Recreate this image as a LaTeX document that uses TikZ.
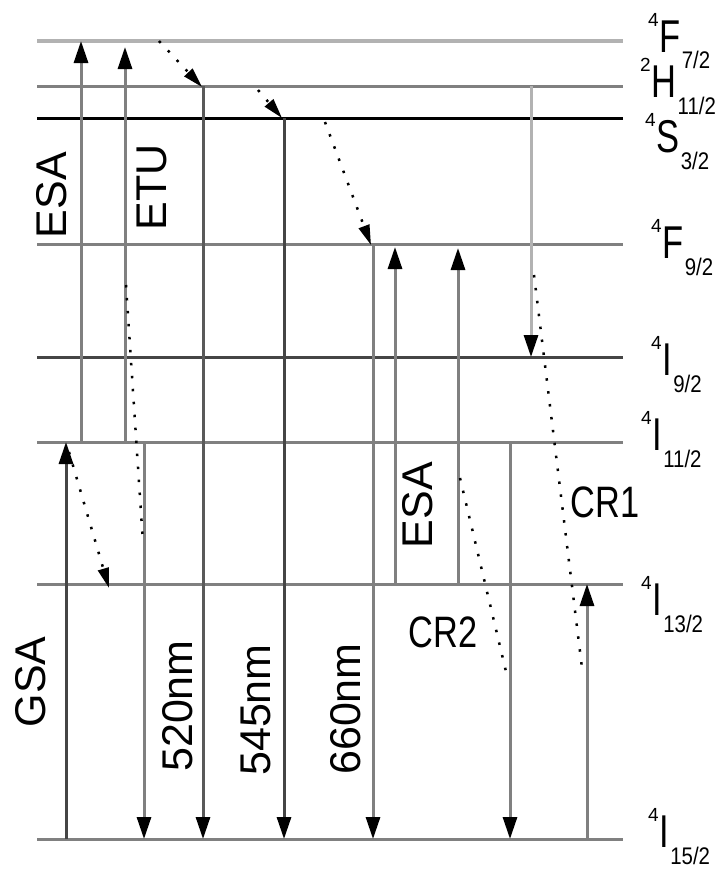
\documentclass[tikz,border=0pt]{standalone}
\usepackage{fontspec}
\setmainfont{Liberation Sans}
\usepackage{graphicx}
\usetikzlibrary{arrows.meta}

\definecolor{lgrey}{gray}{0.70}
\definecolor{mgrey}{gray}{0.50}
\definecolor{dgrey}{gray}{0.27}

\tikzset{
  level/.style={line width=3pt},
  trans/.style={line width=3pt, mgrey, -{Triangle[length=22pt,width=14pt,color=black]}},
  relax/.style={line width=2.5pt, dash pattern=on 2.5pt off 10.5pt},
  relaxtip/.style={relax, -{Triangle[length=20pt,width=11pt]}},
  vlabel/.style={rotate=90, inner sep=0pt, font=\fontsize{43}{43}\selectfont},
  hlabel/.style={inner sep=0pt, font=\fontsize{44}{44}\selectfont},
  term/.style={anchor=base west, inner sep=0pt},
}

% spectroscopic term: superscript, letter, subscript
\newcommand{\termsym}[3]{%
  \raisebox{26pt}{\fontsize{19}{19}\selectfont #1}\hspace{1pt}%
  \scalebox{0.75}[1]{\fontsize{46}{46}\selectfont #2}\hspace{1pt}%
  \raisebox{-17pt}{\scalebox{0.85}[1]{\fontsize{24}{24}\selectfont #3}}}

\begin{document}
\begin{tikzpicture}[x=1pt,y=-1pt]
  \useasboundingbox (0,0) rectangle (726,870);
  % Levels
  \foreach \lv/\y/\col/\w in {F72/41/lgrey/4.5, H112/86/mgrey/3, S32/118/black/3,
      F92/244/mgrey/3, I92/357/dgrey/3, I112/442/mgrey/3, I132/584/mgrey/3, I152/839/mgrey/3}
  {
    \coordinate (\lv) at (37,\y);
    \coordinate (\lv-r) at (623,\y);
    \draw[level,\col,line width=\w pt] (\lv) -- (\lv-r);
  }
  % Absorption and upconversion (up)
  \draw[trans,dgrey] (66,0 |- I152) -- (66,0 |- I112);
  \draw[trans] (81,0 |- I112) -- (81,0 |- F72);
  \draw[trans,shorten >=6pt] (125,0 |- I112) -- (125,0 |- F72);
  \draw[trans,shorten >=3pt] (395,0 |- I132) -- (395,0 |- F92);
  \draw[trans,shorten >=4pt] (458,0 |- I132) -- (458,0 |- F92);
  \draw[trans] (587,0 |- I152) -- (587,0 |- I132);
  % Emission and decay (down)
  \draw[trans] (144,0 |- I112) -- (144,0 |- I152);
  \draw[trans,black!65] (203,0 |- H112) -- (203,0 |- I152);
  \draw[trans,dgrey] (284,0 |- S32) -- (284,0 |- I152);
  \draw[trans] (373,0 |- F92) -- (373,0 |- I152);
  \draw[trans] (510,0 |- I112) -- (510,0 |- I152);
  \draw[trans,lgrey] (531,0 |- H112) -- (531,0 |- I92);
  % Nonradiative relaxation and cross relaxation
  \foreach \n/\xa/\ya/\xb/\yb in {r1/159/41/202/87, r2/258/90/282/118,
      r3/325/122/371/245, r4/126/285/143/543, r5/69/452/109/588,
      r6/460/478/508/680, r7/534/275/582/668}
  {
    \coordinate (\n-a) at (\xa,\ya);
    \coordinate (\n-b) at (\xb,\yb);
  }
  \foreach \n in {r1,r2,r3,r5}
    \draw[relaxtip] (\n-a) -- (\n-b);
  \foreach \n in {r4,r6,r7}
    \draw[relax] (\n-a) -- (\n-b);
  % Labels
  \node[vlabel] (esa1) at (52,195) {ESA};
  \node[vlabel] (etu) at (152,187) {ETU};
  \node[vlabel] (gsa) at (31,682) {GSA};
  \node[vlabel] (nm520) at (178,706) {520nm};
  \node[vlabel] (nm545) at (256,710) {545nm};
  \node[vlabel] (nm660) at (346,709) {660nm};
  \node[vlabel] (esa2) at (418,505) {ESA};
  \node[hlabel] (cr1) at (605,502) {\scalebox{0.78}[1]{CR1}};
  \node[hlabel] (cr2) at (443,632) {\scalebox{0.78}[1]{CR2}};
  % Term symbols
  \node[term] (tF72) at (648,52) {\termsym{4}{F}{7/2}};
  \node[term] (tH112) at (640,97) {\termsym{2}{H}{11/2}};
  \node[term] (tS32) at (645,152) {\termsym{4}{S}{3/2}};
  \node[term] (tF92) at (651,258) {\termsym{4}{F}{9/2}};
  \node[term] (tI92) at (651,375) {\termsym{4}{I}{9/2}};
  \node[term] (tI112) at (641,450) {\termsym{4}{I}{11/2}};
  \node[term] (tI132) at (641,615) {\termsym{4}{I}{13/2}};
  \node[term] (tI152) at (648,847) {\termsym{4}{I}{15/2}};
\end{tikzpicture}
\end{document}
